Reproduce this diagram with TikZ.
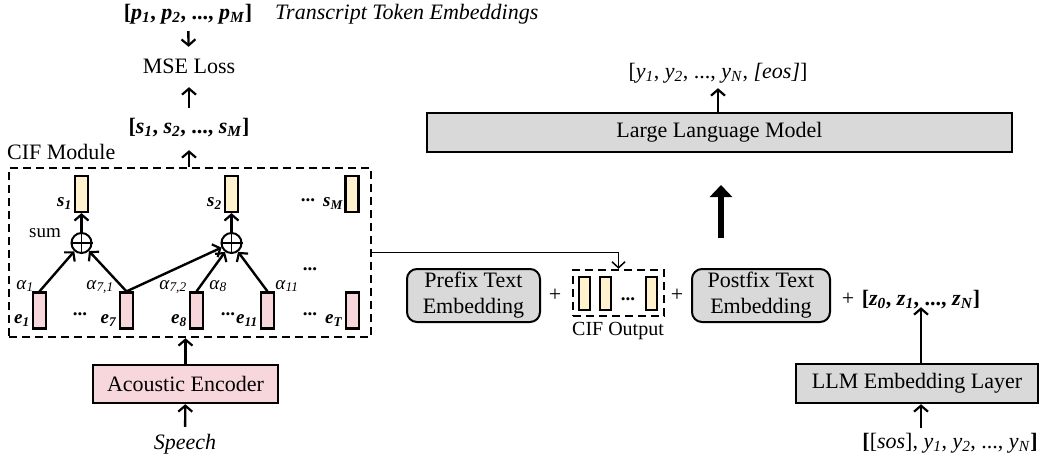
\documentclass[tikz,border=0pt]{standalone}
\usepackage{fontspec}
\setmainfont{Liberation Serif}
\usetikzlibrary{arrows.meta}
\definecolor{yel}{HTML}{FFF2CC}
\definecolor{pnk}{HTML}{F8D7DC}
\definecolor{gry}{HTML}{D9D9D9}
\newcommand\bv[2]{\textbf{\textit{#1}\textsubscript{\textit{#2}}}}
\newcommand\iv[2]{\textit{#1}\textsubscript{\textit{#2}}}
\begin{document}
\begin{tikzpicture}[x=1pt,y=-1pt,
  every node/.style={font=\fontsize{22}{26}\selectfont, inner sep=0pt, text height=15pt, text depth=5pt},
  sm/.style={font=\fontsize{19}{22}\selectfont},
  ar/.style={line width=2.4pt, -{Straight Barb[length=6pt,width=14pt,line width=2.2pt]}},
  thinar/.style={line width=1.5pt, -{Straight Barb[length=6pt,width=13pt,line width=1.5pt]}},
  bigar/.style={line width=6.5pt, -{Triangle[length=12pt,width=22pt]}},
  vecY/.style={draw, line width=2.2pt, fill=yel, minimum width=13pt, minimum height=36pt, text height=, text depth=},
  vecP/.style={draw, line width=2.2pt, fill=pnk, minimum width=13pt, minimum height=36pt, text height=, text depth=},
  box/.style={draw, line width=2.4pt, fill=gry, text height=, text depth=},
  rbox/.style={draw, line width=2pt, fill=gry, rounded corners=10pt, align=center, text height=, text depth=},
  dbox/.style={draw, line width=2.4pt, dash pattern=on 8pt off 5pt, text height=, text depth=},
  sumc/.style={draw, circle, line width=2pt, minimum size=20pt, text height=, text depth=},
]
\useasboundingbox (0,0) rectangle (1040,463);

% ---------- left: CIF branch ----------
\node (p) at (188,14) {\bfseries [\bv{p}{1}, \bv{p}{2}, ..., \bv{p}{M}]};
\node[anchor=west] (tte) at (275,14) {\textit{Transcript Token Embeddings}};
\node (mse) at (189,68) {MSE Loss};
\node (sl) at (189,128) {\bfseries [\bv{s}{1}, \bv{s}{2}, ..., \bv{s}{M}]};
\node[anchor=west] (cifl) at (7,154) {CIF Module};

\node[dbox, minimum width=362pt, minimum height=169pt] (cif) at (190,252.5) {};

\node[vecY] (s1) at (81.5,194) {};
\node[vecY] (s2) at (231.5,194) {};
\node[vecY] (sM) at (352,194) {};
\node[sm, anchor=south east] (s1l) at ([xshift=-2pt,yshift=1pt]s1.south west) {\bv{s}{1}};
\node[sm, anchor=south east] (s2l) at ([xshift=-2pt,yshift=1pt]s2.south west) {\bv{s}{2}};
\node[sm, anchor=south east] (sMl) at ([xshift=-1pt,yshift=1pt]sM.south west) {\bv{s}{M}};
\node[sm] (dA) at (308,196) {\textbf{...}};

\node[sumc] (c1) at (81.5,243) {};
\node[sumc] (c2) at (231.5,243) {};
\draw[line width=1.8pt] (c1.north) -- (c1.south) (c1.west) -- (c1.east);
\draw[line width=1.8pt] (c2.north) -- (c2.south) (c2.west) -- (c2.east);
\node[sm] (sum) at (45,232) {sum};
\draw[ar] (c1) -- (s1);
\draw[ar] (c2) -- (s2);

\node[vecP] (e1) at (39.5,310.5) {};
\node[vecP] (e7) at (126.5,310.5) {};
\node[vecP] (e8) at (196.5,310.5) {};
\node[vecP] (e11) at (267.5,310.5) {};
\node[vecP] (eT) at (352.5,310.5) {};
\node[sm, anchor=south east] (e1l) at ([xshift=-2pt,yshift=1pt]e1.south west) {\bv{e}{1}};
\node[sm, anchor=south east] (e7l) at ([xshift=-2pt,yshift=1pt]e7.south west) {\bv{e}{7}};
\node[sm, anchor=south east] (e8l) at ([xshift=-2pt,yshift=1pt]e8.south west) {\bv{e}{8}};
\node[sm, anchor=south east] (e11l) at ([xshift=-2pt,yshift=1pt]e11.south west) {\bv{e}{11}};
\node[sm, anchor=south east] (eTl) at ([xshift=-2pt,yshift=1pt]eT.south west) {\bv{e}{T}};
\node[sm] (dB) at (80,310) {\textbf{...}};
\node[sm] (dC) at (228,310) {\textbf{...}};
\node[sm] (dD) at (310,310) {\textbf{...}};
\node[sm] (dE) at (310,265) {\textbf{...}};

\draw[ar] (e1.north) -- (c1);
\draw[ar] (e7.north) -- (c1);
\draw[ar] (e7.north) -- (c2);
\draw[ar] (e8.north) -- (c2);
\draw[ar] (e11.north) -- (c2);

\node[sm] (a1) at (25,284) {\iv{α}{1}};
\node[sm] (a71) at (100,284) {\iv{α}{7,1}};
\node[sm] (a72) at (173,284) {\iv{α}{7,2}};
\node[sm] (a8) at (218,284) {\iv{α}{8}};
\node[sm] (a11) at (287,284) {\iv{α}{11}};

\node[draw, line width=2.4pt, fill=pnk, minimum width=185pt, minimum height=38pt, text height=, text depth=] (enc) at (185.5,384) {Acoustic Encoder};
\node (sp) at (185,444) {\textit{Speech}};

\draw[ar, shorten <=7pt, shorten >=11pt] (p) -- (mse);
\draw[ar, shorten <=10pt, shorten >=9pt] (sl) -- (mse);
\draw[ar, shorten >=12pt] (cif.north -| sl) -- (sl);
\draw[ar] (enc) -- (enc |- cif.south);
\draw[ar, shorten <=7pt] (sp) -- (enc);

% ---------- right: LLM branch ----------
\node[dbox, minimum width=91pt, minimum height=46pt] (cifo) at (618.5,293) {};
\node[vecY, minimum width=11pt, minimum height=33pt] (o1) at (584.5,293.5) {};
\node[vecY, minimum width=11pt, minimum height=33pt] (o2) at (605.5,293.5) {};
\node[vecY, minimum width=11pt, minimum height=33pt] (o3) at (651.5,293.5) {};
\node[sm] (dF) at (628,295) {\textbf{...}};
\node[font=\fontsize{20}{24}\selectfont] (cifol) at (618,330) {CIF Output};
\draw[thinar] (cif.east) -| (cifo.north);

\node[rbox, minimum width=133pt, minimum height=53pt] (pre) at (473.5,295.5) {Prefix Text\\Embedding};
\node[rbox, minimum width=138pt, minimum height=53pt] (post) at (761,295.5) {Postfix Text\\Embedding};
\node (pl1) at (555,296) {+};
\node (pl2) at (677,296) {+};
\node (pl3) at (848,300) {+};
\node (zl) at (921,300) {\bfseries [\bv{z}{0}, \bv{z}{1}, ..., \bv{z}{N}]};

\node[box, minimum width=242pt, minimum height=39pt] (emb) at (917,383.5) {LLM Embedding Layer};
\node (sos) at (950,443) {\textbf{[}[\textit{sos}], \iv{y}{1}, \iv{y}{2}, ..., \iv{y}{N}\textbf{]}};
\draw[ar, shorten >=-3pt] (emb.north -| zl) -- (zl);
\draw[ar, shorten <=5pt] (sos.north -| zl) -- (emb.south -| zl);

\node[box, minimum width=585pt, minimum height=39pt] (llm) at (719.5,132.5) {Large Language Model};
\node (yl) at (718,73) {[\iv{y}{1}, \iv{y}{2}, ..., \iv{y}{N}, \textit{[eos]}]};
\draw[ar, shorten >=5pt] (llm.north -| yl) -- (yl);

\coordinate (bigS) at (721,238);
\coordinate (bigE) at (721,185);
\draw[bigar] (bigS) -- (bigE);
\end{tikzpicture}
\end{document}
